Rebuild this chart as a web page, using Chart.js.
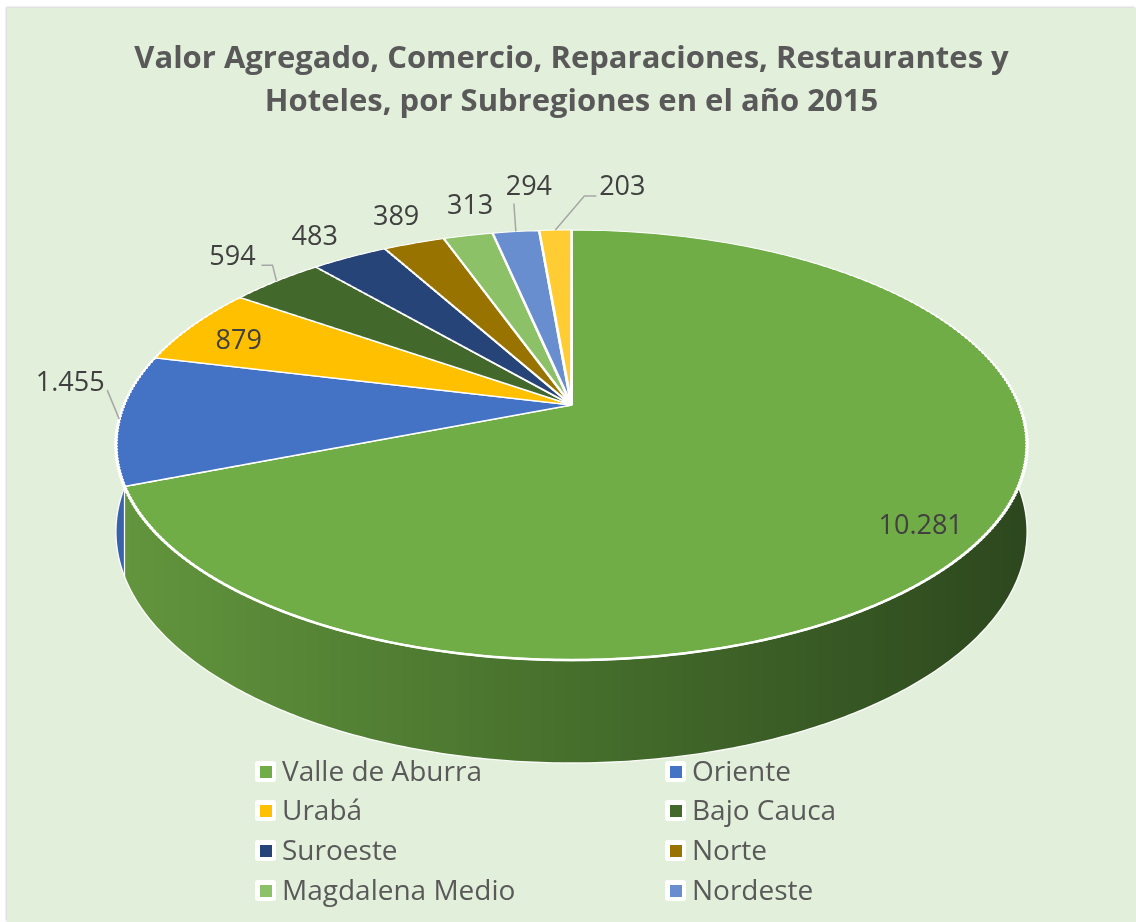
<!DOCTYPE html>
<html><head><meta charset="utf-8">
<script src="https://cdn.jsdelivr.net/npm/chart.js@4.4.1/dist/chart.umd.min.js"></script>
<style>
html,body{margin:0;padding:0;background:#fff;width:1136px;height:922px;overflow:hidden;}
#wrap{position:absolute;left:7px;top:8px;width:1129px;height:914px;background:#E2EFDA;box-shadow:-1px -1px 2px rgba(0,0,0,0.18);}
#c{position:absolute;left:0;top:0;}
#legend{position:absolute;left:0;top:0;width:1129px;height:914px;pointer-events:none;font-family:"Open Sans",sans-serif;font-size:28px;color:#595959;}
.li{position:absolute;height:30px;line-height:30px;white-space:nowrap;}
.bx{position:absolute;left:0;top:4px;width:21px;height:21px;background:#fff;border-radius:3px;}
.sq{position:absolute;left:5px;top:5px;width:12px;height:12px;}
.tx{position:absolute;left:27px;top:-2px;}
</style>
</head><body>
<div id="wrap"><canvas id="c" width="1129" height="914"></canvas><div id="legend"></div></div>
<script>
const categories = ["Valle de Aburra","Oriente","Urabá","Bajo Cauca","Suroeste","Norte","Magdalena Medio","Nordeste","Occidente"];
const values = [10281,1455,879,594,483,389,313,294,203];
const valueLabels = ["10.281","1.455","879","594","483","389","313","294","203"];
const legendCategories = categories.slice(0,8);
const titleLines = ["Valor Agregado, Comercio, Reparaciones, Restaurantes y","Hoteles, por Subregiones en el año 2015"];

const colors = ["#70AD47","#4472C4","#FFC000","#43682B","#264478","#997300","#8CC168","#698ED0","#FFCD33"];
const sideGrad = [
  ["#62953d","#466f2c","#2d481e"],
  ["#3a62ab","#2d4d88","#213a66"],
  ["#d9a300","#b38600","#8a6700"],
  ["#39591f","#2c4618","#203312"],
  ["#1f3a66","#182d50","#11203a"],
  ["#826200","#6a5000","#4f3b00"],
  ["#77a659","#5f8747","#466535"],
  ["#5a79b1","#48618f","#36496b"],
  ["#d9ae2b","#b38f23","#8a6e1b"]
];

// perspective view of the disc (canvas coordinates)
const Y0 = 397;      // screen y of disc centre
const B = 207.6;     // vertical scale
const K = 0.186;     // perspective strength
const AR = 447.6;    // horizontal half-size at centre depth
const D0 = 83.8;     // disc thickness
const PIE_R = 456;   // radius Chart.js draws with

// label placement relative to rim point at slice mid-angle
const labelCfg = [
  {dx:-64, dy:-9},
  {dx:-49, dy:-36, lead:[[37,7]]},
  {dx:46, dy:16},
  {dx:-44, dy:-24, lead:[[29,8],[40,8]]},
  {dx:-35, dy:-20},
  {dx:-18, dy:-26},
  {dx:2, dy:-29},
  {dx:13, dy:-44, lead:[[-15,16]]},
  {dx:67, dy:-43, lead:[[-26,9],[-38,9]]}
];

function geo(chart){
  const a = chart.getDatasetMeta(0).data[0];
  return {cx:a.x, cy:a.y, r:a.outerRadius};
}
function invW(y){ const d = y - Y0; return d/(B + K*d); }
function P(cx, t, h){
  const w = Math.sin(t), d = 1 - K*w;
  return [cx + AR*Math.cos(t)/d, Y0 + (B*w + h*D0)/d];
}

const pie3d = {
  id:'pie3d',
  beforeDatasetsDraw(chart){
    const ctx = chart.ctx, g = geo(chart);
    const arcs = chart.getDatasetMeta(0).data;
    const lo = -0.22, hi = Math.PI + 0.22;
    arcs.forEach((a,i)=>{
      const a1 = Math.max(a.startAngle, lo), a2 = Math.min(a.endAngle, hi);
      if (a2 <= a1) return;
      const n = Math.max(4, Math.ceil((a2-a1)/0.01));
      ctx.beginPath();
      for (let j=0;j<=n;j++){ const p = P(g.cx, a1+(a2-a1)*j/n, 0); j?ctx.lineTo(p[0],p[1]):ctx.moveTo(p[0],p[1]); }
      for (let j=n;j>=0;j--){ const p = P(g.cx, a1+(a2-a1)*j/n, 1); ctx.lineTo(p[0],p[1]); }
      ctx.closePath();
      const gr = ctx.createLinearGradient(g.cx-AR,0,g.cx+AR,0);
      gr.addColorStop(0, sideGrad[i][0]);
      gr.addColorStop(0.5, sideGrad[i][1]);
      gr.addColorStop(1, sideGrad[i][2]);
      ctx.fillStyle = gr; ctx.fill();
    });
    // bottom rim outline
    ctx.strokeStyle = 'rgba(255,255,255,0.95)'; ctx.lineWidth = 1.3;
    ctx.beginPath();
    for (let j=0;j<=320;j++){ const p = P(g.cx, lo+(hi-lo)*j/320, 1); j?ctx.lineTo(p[0],p[1]):ctx.moveTo(p[0],p[1]); }
    ctx.stroke();
    // slice seam on the visible side
    arcs.forEach(a=>{
      const t = a.startAngle;
      if (t > 0.19 && t < Math.PI-0.19){
        const p = P(g.cx,t,0), q = P(g.cx,t,1);
        ctx.beginPath(); ctx.moveTo(p[0],p[1]); ctx.lineTo(q[0],q[1]); ctx.stroke();
      }
    });
  },
  beforeDatasetDraw(chart, args){
    const ctx = chart.ctx, g = geo(chart), meta = args.meta;
    const yTop = Y0 - B/(1+K), yBot = Y0 + B/(1-K);
    const H = 3;
    for (let ya = Math.floor(yTop)-4; ya < yBot+4; ya += H){
      const yb = ya + H;
      const wa = invW(ya), wb = invW(yb), wm = invW(ya + H/2);
      const Sx = (AR/g.r)/(1 - K*wm);
      const Sy = (yb - ya)/((wb - wa)*g.r);
      ctx.save();
      ctx.beginPath(); ctx.rect(0, ya, chart.width, H); ctx.clip();
      ctx.transform(Sx, 0, 0, Sy, g.cx - Sx*g.cx, ya - Sy*(g.cy + wa*g.r));
      meta.controller.draw();
      ctx.restore();
    }
    return false;
  },
  afterDatasetsDraw(chart){
    const ctx = chart.ctx, g = geo(chart);
    // front rim highlight
    ctx.strokeStyle = '#ffffff'; ctx.lineWidth = 2.5;
    ctx.beginPath();
    for (let j=0;j<=300;j++){ const p = P(g.cx, 0.05 + (Math.PI-0.1)*j/300, 0); j?ctx.lineTo(p[0],p[1]):ctx.moveTo(p[0],p[1]); }
    ctx.stroke();
    // data labels
    const arcs = chart.getDatasetMeta(0).data;
    ctx.font = '27px "Open Sans", sans-serif';
    ctx.fillStyle = '#404040';
    ctx.textAlign = 'center'; ctx.textBaseline = 'middle';
    arcs.forEach((a,i)=>{
      const mid = (a.startAngle + a.endAngle)/2;
      const p = P(g.cx, mid, 0);
      const c = labelCfg[i];
      const lx = p[0]+c.dx, ly = p[1]+c.dy;
      if (c.lead){
        ctx.save();
        ctx.strokeStyle = '#A6A6A6'; ctx.lineWidth = 1.5;
        ctx.beginPath();
        c.lead.forEach((q,k)=>{ if(k===0) ctx.moveTo(lx+q[0], ly+q[1]); else ctx.lineTo(lx+q[0], ly+q[1]); });
        ctx.lineTo(p[0], p[1]);
        ctx.stroke();
        ctx.restore();
      }
      ctx.fillText(valueLabels[i], lx, ly);
    });
  }
};

new Chart(document.getElementById('c'), {
  type:'pie',
  data:{labels:categories, datasets:[{data:values, backgroundColor:colors, borderColor:'#ffffff', borderWidth:3, clip:false, radius:PIE_R}]},
  options:{
    responsive:false, animation:false, events:[],
    layout:{padding:0},
    plugins:{
      legend:{display:false}, tooltip:{enabled:false},
      title:{display:true, text:titleLines, color:'#595959', font:{family:'"Open Sans", sans-serif', size:31, weight:'bold', lineHeight:1.387}, padding:{top:30,bottom:10}}
    }
  },
  plugins:[pie3d]
});

// legend (two columns)
const lg = document.getElementById('legend');
const colX = [248, 658], rowY = [749, 788, 828, 868];
legendCategories.forEach((name,i)=>{
  const d = document.createElement('div');
  d.className = 'li';
  d.style.left = colX[i%2]+'px';
  d.style.top = rowY[Math.floor(i/2)]+'px';
  d.innerHTML = '<div class="bx"><div class="sq" style="background:'+colors[i]+'"></div></div><span class="tx"></span>';
  d.querySelector('.tx').textContent = name;
  lg.appendChild(d);
});
</script>
</body></html>
